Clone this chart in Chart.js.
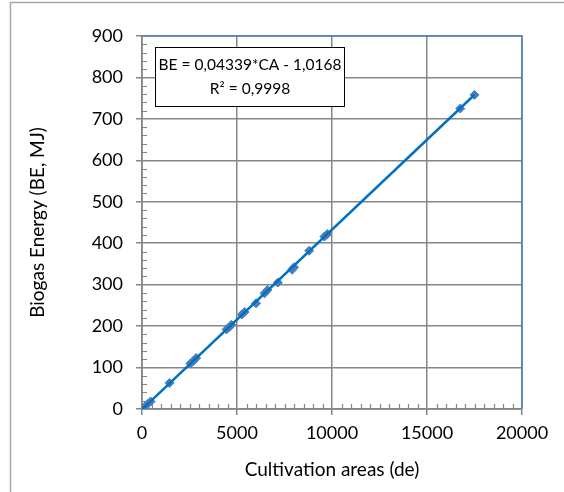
<!DOCTYPE html>
<html>
<head>
<meta charset="utf-8">
<script src="https://cdn.jsdelivr.net/npm/chart.js@4.4.1/dist/chart.umd.min.js"></script>
<style>
  html, body { margin: 0; padding: 0; background: #fff; }
  #wrap { width: 564px; height: 492px; }
</style>
</head>
<body>
<div id="wrap"><canvas id="myChart_biogas" width="564" height="492"></canvas></div>
<script>
// du lieu doc tu hinh
var areas  = [0, 150, 300, 450, 1450, 2550, 2700, 2850, 4450, 4600, 4700, 5250, 5400, 6000, 6450, 6600, 7150, 7900, 8000, 8800, 9600, 9750, 16750, 17500];
var energy = [0, 5, 12, 18, 63, 110, 116, 123, 192, 198, 203, 228, 234, 255, 279, 287, 305, 336, 342, 382, 416, 422, 725, 758];
var xTicks = [0, 5000, 10000, 15000, 20000];
var yTicks = [0, 100, 200, 300, 400, 500, 600, 700, 800, 900];
// he so duong xu huong (lay tu nhan)
var slope = 0.04339;
var intercept = -1.0168;
var eqLines = ['BE = 0,04339*CA - 1,0168', 'R\u00b2 = 0,9998'];

var FONT = 'Lato, "Open Sans", sans-serif';

var points = areas.map(function (a, i) { return { x: a, y: energy[i] }; });
var xMin = Math.min.apply(null, areas), xMax = Math.max.apply(null, areas);
var trend = [
    { x: xMin, y: slope * xMin + intercept },
    { x: xMax, y: slope * xMax + intercept }
];

// khung ngoai + vien vung ve + vach phu + hop phuong trinh
var decor = {
    id: 'decor',
    beforeDraw: function (chart) {
        var c = chart.ctx;
        c.save();
        c.fillStyle = '#fff';
        c.fillRect(0, 0, chart.width, chart.height);
        c.strokeStyle = '#a6a6a6';
        c.lineWidth = 1.5;
        c.strokeRect(10.5, 2.5, chart.width + 20, chart.height + 20);
        c.restore();
    },
    beforeDatasetsDraw: function (chart) {
        var c = chart.ctx, a = chart.chartArea;
        var xs = chart.scales.x, ys = chart.scales.y;
        c.save();
        // vien tren / phai mau xanh
        c.strokeStyle = '#4f81bd';
        c.lineWidth = 1.5;
        c.beginPath();
        c.moveTo(a.left, a.top);
        c.lineTo(a.right, a.top);
        c.lineTo(a.right, a.bottom);
        c.stroke();
        // truc trai / duoi
        c.strokeStyle = '#868686';
        c.lineWidth = 1.5;
        c.beginPath();
        c.moveTo(a.left, a.top);
        c.lineTo(a.left, a.bottom);
        c.lineTo(a.right, a.bottom);
        c.stroke();
        // vach phu
        c.lineWidth = 1.2;
        c.beginPath();
        for (var v = 20; v < 900; v += 20) {
            if (v % 100 === 0) continue;
            var py = Math.round(ys.getPixelForValue(v)) + 0.5;
            c.moveTo(a.left, py);
            c.lineTo(a.left + 5, py);
        }
        for (var u = 500; u < 20000; u += 500) {
            if (u % 5000 === 0) continue;
            var px = Math.round(xs.getPixelForValue(u)) + 0.5;
            c.moveTo(px, a.bottom);
            c.lineTo(px, a.bottom - 5);
        }
        c.stroke();
        c.restore();
    },
    afterDraw: function (chart) {
        var c = chart.ctx;
        var bx = 155.5, by = 47.5, bw = 189, bh = 59;
        c.save();
        c.fillStyle = '#fff';
        c.fillRect(bx, by, bw, bh);
        c.strokeStyle = '#000';
        c.lineWidth = 1;
        c.strokeRect(bx, by, bw, bh);
        c.fillStyle = '#000';
        c.font = '15.5px ' + FONT;
        c.textAlign = 'center';
        c.textBaseline = 'middle';
        c.fillText(eqLines[0], bx + bw / 2, by + 17);
        c.fillText(eqLines[1], bx + bw / 2, by + 41);
        c.restore();
    }
};

var ctx = document.getElementById('myChart_biogas');
var myChart = new Chart(ctx, {
    type: 'scatter',
    data: {
        datasets: [{
            label: 'BE',
            data: points,
            pointStyle: 'rectRot',
            pointRadius: 4.5,
            backgroundColor: '#4a7ebb',
            borderColor: '#4a7ebb',
            borderWidth: 1,
            order: 2
        }, {
            label: 'trend',
            type: 'line',
            data: trend,
            borderColor: '#0070c0',
            borderWidth: 2.5,
            pointRadius: 0,
            fill: false,
            order: 1
        }]
    },
    options: {
        responsive: false,
        animation: false,
        layout: { padding: { left: 0, top: 36, right: 42, bottom: 0 } },
        plugins: {
            legend: { display: false },
            tooltip: { enabled: false }
        },
        scales: {
            x: {
                type: 'linear',
                min: 0,
                max: 20000,
                afterBuildTicks: function (s) { s.ticks = xTicks.map(function (v) { return { value: v }; }); },
                afterFit: function (s) { s.height = 83; },
                border: { display: false },
                grid: { color: '#868686', lineWidth: 1.5, tickLength: 6, drawTicks: true },
                ticks: {
                    color: '#000', font: { family: FONT, size: 18 }, padding: 7, maxRotation: 0,
                    callback: function (value) { return String(value); }
                },
                title: {
                    display: true,
                    text: 'Cultivation areas (de)',
                    color: '#000',
                    font: { family: FONT, size: 19 },
                    padding: { top: 11, bottom: 11 }
                }
            },
            y: {
                type: 'linear',
                min: 0,
                max: 900,
                afterBuildTicks: function (s) { s.ticks = yTicks.map(function (v) { return { value: v }; }); },
                afterFit: function (s) { s.width = 142; },
                border: { display: false },
                grid: { color: '#868686', lineWidth: 1.5, tickLength: 6, drawTicks: true },
                ticks: {
                    color: '#000', font: { family: FONT, size: 18 }, padding: 13,
                    callback: function (value) { return String(value); }
                },
                title: {
                    display: true,
                    text: 'Biogas Energy (BE, MJ)',
                    color: '#000',
                    font: { family: FONT, size: 19 },
                    padding: { top: 26, bottom: 26 }
                }
            }
        }
    },
    plugins: [decor]
});
</script>
</body>
</html>
